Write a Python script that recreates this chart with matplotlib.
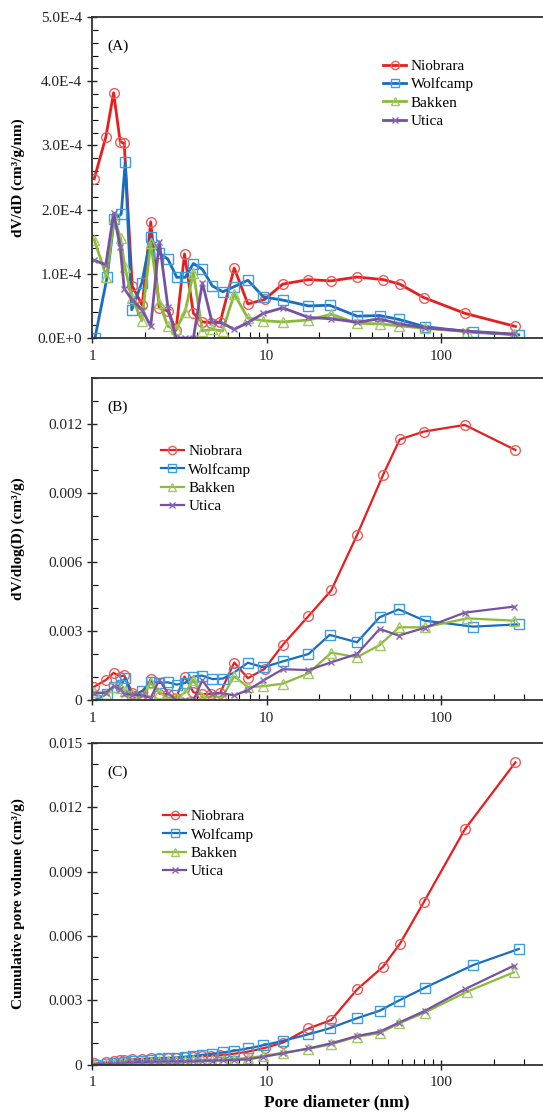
import matplotlib
matplotlib.use('Agg')
import matplotlib.pyplot as plt
from matplotlib.ticker import FixedLocator, FuncFormatter, MultipleLocator, NullFormatter

plt.rcParams['font.family'] = ['Liberation Serif', 'DejaVu Serif']

# Pore diameters (nm) of each sample
d_nio = [1.03, 1.20, 1.33, 1.45, 1.53, 1.70, 1.94, 2.17, 2.43, 2.72, 3.03, 3.39, 3.81, 4.29,
         4.82, 5.43, 6.53, 7.82, 9.74, 12.4, 17.4, 23.5, 33.0, 46.5, 58.0, 79.6, 136.8, 267]
d_wol = [1.04, 1.22, 1.34, 1.47, 1.55, 1.69, 1.93, 2.17, 2.43, 2.72, 3.06, 3.42, 3.81, 4.29,
         4.90, 5.62, 6.53, 7.82, 9.61, 12.4, 17.4, 23.0, 33.0, 44.5, 57.2, 80.6, 152.8, 279]
d_bak = [1.03, 1.21, 1.34, 1.46, 1.54, 1.70, 1.93, 2.17, 2.43, 2.72, 3.03, 3.42, 3.81, 4.29,
         4.87, 5.60, 6.53, 7.82, 9.61, 12.4, 17.4, 23.5, 33.0, 44.5, 57.5, 80.6, 141.1, 261]
d_uti = [1.03, 1.20, 1.33, 1.45, 1.53, 1.70, 1.94, 2.17, 2.43, 2.72, 3.03, 3.39, 3.81, 4.29,
         4.87, 5.60, 6.53, 7.82, 9.61, 12.4, 17.4, 23.5, 33.0, 44.5, 57.2, 80.6, 136.8, 261]

# (A) dV/dD, units of 1E-4 cm3/g/nm
a_nio = [2.48, 3.13, 3.82, 3.06, 3.03, 0.81, 0.51, 1.81, 0.47, 0.42, 0.12, 1.31, 0.385, 0.25,
         0.24, 0.25, 1.09, 0.53, 0.60, 0.84, 0.91, 0.89, 0.95, 0.91, 0.84, 0.63, 0.385, 0.18]
a_wol = [0.0, 0.945, 1.85, 1.93, 2.74, 0.44, 0.86, 1.57, 1.32, 1.23, 0.945, 0.945, 1.16, 1.07,
         0.81, 0.72, 0.80, 0.90, 0.64, 0.59, 0.50, 0.51, 0.34, 0.35, 0.29, 0.177, 0.09, 0.05]
a_bak = [1.53, 0.955, 1.87, 1.55, 1.11, 0.62, 0.27, 1.48, 0.55, 0.18, 0.135, 0.41, 1.02, 0.11,
         0.135, 0.11, 0.685, 0.31, 0.27, 0.25, 0.28, 0.37, 0.23, 0.22, 0.19, 0.15, 0.10, 0.06]
a_uti = [1.21, 1.14, 1.94, 1.42, 0.77, 0.59, 0.44, 0.18, 1.50, 0.49, 0.0, 0.0, 0.0, 0.86,
         0.25, 0.23, 0.135, 0.24, 0.385, 0.47, 0.32, 0.30, 0.245, 0.30, 0.22, 0.16, 0.11, 0.06]

# (B) dV/dlog(D), cm3/g
b_nio = [0.00058, 0.00087, 0.00118, 0.00102, 0.00107, 0.00032, 0.00023, 0.00090, 0.00028, 0.00026,
         0.00008, 0.00102, 0.00034, 0.00025, 0.00027, 0.00031, 0.00163, 0.00095, 0.00135, 0.00240,
         0.00365, 0.00477, 0.00717, 0.00978, 0.01133, 0.01167, 0.01196, 0.01087]
b_wol = [0.0, 0.00027, 0.00057, 0.00065, 0.00097, 0.00017, 0.00038, 0.00079, 0.00074, 0.00077,
         0.00067, 0.00074, 0.00102, 0.00106, 0.00091, 0.00093, 0.00120, 0.00162, 0.00142, 0.00168,
         0.00200, 0.00283, 0.00251, 0.00360, 0.00394, 0.00345, 0.00319, 0.00329]
b_bak = [0.00036, 0.00027, 0.00058, 0.00052, 0.00039, 0.00024, 0.00012, 0.00074, 0.00031, 0.00011,
         0.00009, 0.00032, 0.00089, 0.00011, 0.00015, 0.00014, 0.00103, 0.00056, 0.00060, 0.00071,
         0.00116, 0.00206, 0.00186, 0.00239, 0.00316, 0.00316, 0.00355, 0.00345]
b_uti = [0.00029, 0.00032, 0.00059, 0.00047, 0.00027, 0.00023, 0.00020, 0.00009, 0.00088, 0.00031,
         0.0, 0.0, 0.0, 0.00085, 0.00028, 0.00029, 0.00020, 0.00043, 0.00085, 0.00134,
         0.00130, 0.00164, 0.00200, 0.00309, 0.00280, 0.00314, 0.00380, 0.00406]

# (C) cumulative pore volume, cm3/g
c_nio = [0.00005, 0.00010, 0.00015, 0.00019, 0.00022, 0.00024, 0.00026, 0.00029, 0.00030, 0.00031,
         0.00032, 0.00035, 0.00037, 0.00039, 0.00041, 0.00043, 0.00050, 0.00060, 0.00077, 0.00102,
         0.00168, 0.00208, 0.00350, 0.00456, 0.00562, 0.00757, 0.01097, 0.01410]
c_wol = [0.0, 0.00002, 0.00005, 0.00008, 0.00012, 0.00014, 0.00016, 0.00020, 0.00024, 0.00028,
         0.00032, 0.00036, 0.00040, 0.00045, 0.00050, 0.00056, 0.00064, 0.00075, 0.00090, 0.00110,
         0.00141, 0.00169, 0.00216, 0.00251, 0.00298, 0.00358, 0.00464, 0.00539]
c_bak = [0.0, 0.00002, 0.00004, 0.00006, 0.00008, 0.00009, 0.00010, 0.00012, 0.00014, 0.00015,
         0.00016, 0.00017, 0.00019, 0.00020, 0.00021, 0.00022, 0.00026, 0.00031, 0.00040, 0.00055,
         0.00073, 0.00094, 0.00130, 0.00146, 0.00192, 0.00242, 0.00340, 0.00430]
c_uti = [0.0, 0.00002, 0.00004, 0.00007, 0.00009, 0.00010, 0.00011, 0.00012, 0.00014, 0.00015,
         0.00015, 0.00015, 0.00015, 0.00017, 0.00018, 0.00019, 0.00021, 0.00024, 0.00036, 0.00052,
         0.00075, 0.00099, 0.00133, 0.00153, 0.00195, 0.00250, 0.00351, 0.00461]

names = ['Niobrara', 'Wolfcamp', 'Bakken', 'Utica']
diams = [d_nio, d_wol, d_bak, d_uti]
line_colors = ['#e61e1e', '#1a6cbf', '#8aba3a', '#7650a2']
mark_colors = ['#f05a5a', '#3d9de0', '#a2c862', '#8a66b4']
markers = ['o', 's', '^', 'x']

fig = plt.figure(figsize=(5.43, 11.13), dpi=100)
W, H = 543, 1113
left, width = 92 / W, 471 / W
axA = fig.add_axes([left, (H - 338) / H, width, 321 / H])
axB = fig.add_axes([left, (H - 700) / H, width, 322 / H])
axC = fig.add_axes([left, (H - 1064.5) / H, width, 321.5 / H])

panels = [
    (axA, [a_nio, a_wol, a_bak, a_uti], 1e-4, 2.0, '(A)', (0.618, 0.868)),
    (axB, [b_nio, b_wol, b_bak, b_uti], 1.0, 1.6, '(B)', (0.146, 0.793)),
    (axC, [c_nio, c_wol, c_bak, c_uti], 1.0, 1.6, '(C)', (0.151, 0.793)),
]

for ax, series, scale, lw, tag, legpos in panels:
    for name, d, vals, lc, mc, m in zip(names, diams, series, line_colors, mark_colors, markers):
        y = [v * scale for v in vals]
        ax.plot(d, y, color=lc, lw=lw, marker=m, markersize=7 if m != 'x' else 5,
                markerfacecolor='none', markeredgecolor=mc, markeredgewidth=1.0, label=name)
    ax.set_xscale('log')
    ax.set_xlim(1, 500)
    ax.xaxis.set_major_locator(FixedLocator([1, 10, 100]))
    ax.xaxis.set_major_formatter(FuncFormatter(lambda v, p: '%d' % v))
    ax.xaxis.set_minor_locator(FixedLocator([k * 10 ** e for e in range(0, 3) for k in range(2, 10)]))
    ax.xaxis.set_minor_formatter(NullFormatter())
    ax.tick_params(axis='both', which='major', direction='inout', length=7, width=1.0,
                   labelsize=11, colors='#222222')
    ax.tick_params(axis='both', which='minor', direction='in', length=4, width=0.8)
    ax.tick_params(axis='x', which='major', pad=5)
    ax.spines['right'].set_visible(False)
    for s in ['left', 'bottom', 'top']:
        ax.spines[s].set_linewidth(1.3)
        ax.spines[s].set_color('#333333')
    ax.text(0.032, 0.91, tag, transform=ax.transAxes, fontsize=11, va='center', ha='left')
    leg = ax.legend(loc='upper left', bbox_to_anchor=legpos, frameon=False, fontsize=11,
                    handlelength=1.5, handletextpad=0.3, labelspacing=0.3, borderpad=0,
                    borderaxespad=0, markerscale=0.85)

# y axes
axA.set_ylim(0, 5e-4)
axA.yaxis.set_major_locator(MultipleLocator(1e-4))
axA.yaxis.set_minor_locator(MultipleLocator(0.2e-4))
axA.yaxis.set_major_formatter(FuncFormatter(lambda v, p: '0.0E+0' if abs(v) < 1e-12 else '%.1fE-4' % (v / 1e-4)))
axA.set_ylabel('dV/dD (cm³/g/nm)', fontsize=11, fontweight='bold')

axB.set_ylim(0, 0.014)
axB.yaxis.set_major_locator(MultipleLocator(0.003))
axB.yaxis.set_minor_locator(MultipleLocator(0.001))
axB.yaxis.set_major_formatter(FuncFormatter(lambda v, p: '0' if abs(v) < 1e-12 else '%.3f' % v))
axB.set_ylabel('dV/dlog(D) (cm³/g)', fontsize=11, fontweight='bold')

axC.set_ylim(0, 0.015)
axC.yaxis.set_major_locator(MultipleLocator(0.003))
axC.yaxis.set_minor_locator(MultipleLocator(0.001))
axC.yaxis.set_major_formatter(FuncFormatter(lambda v, p: '0' if abs(v) < 1e-12 else '%.3f' % v))
axC.set_ylabel('Cumulative pore volume (cm³/g)', fontsize=11, fontweight='bold')

for ax in (axA, axB, axC):
    ax.yaxis.set_label_coords(-0.142, 0.5)

fig.text(337 / W, 1 - 1102 / H, 'Pore diameter (nm)', fontsize=12.5, fontweight='bold',
         ha='center', va='center')

fig.savefig('out.png', dpi=100)
